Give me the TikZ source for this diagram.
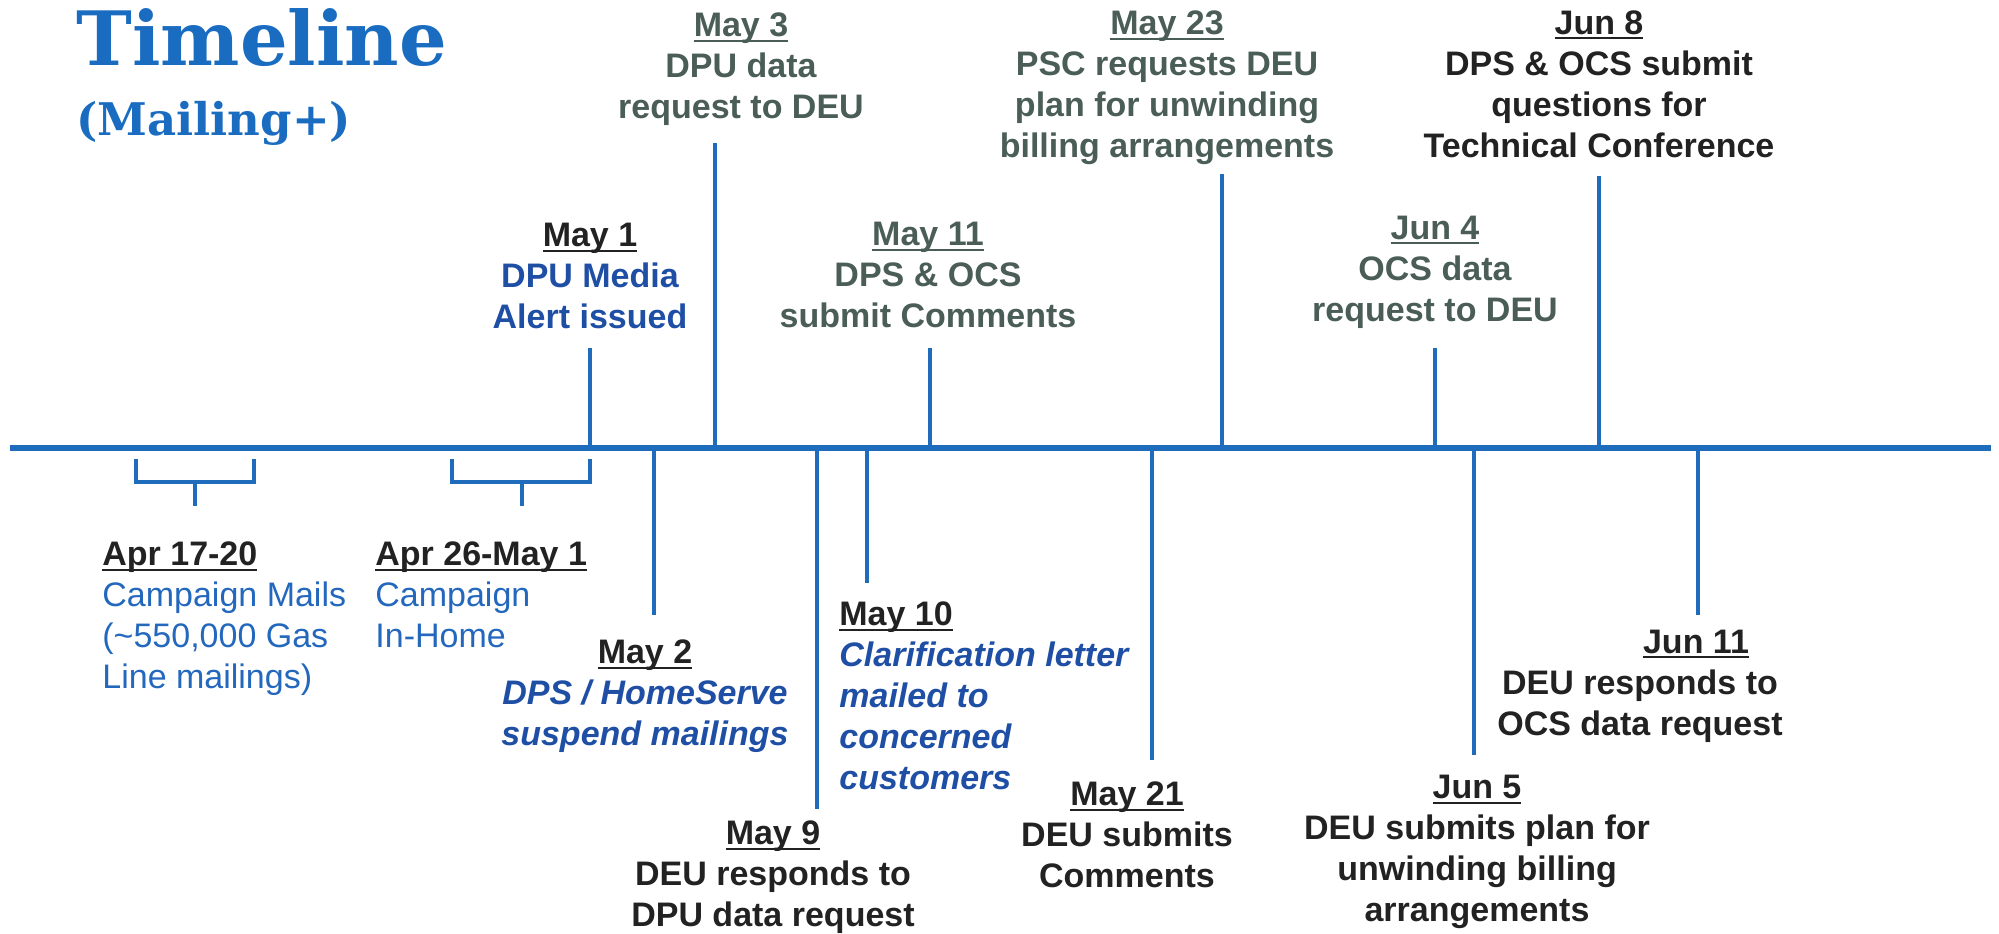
\documentclass[tikz,border=0pt]{standalone}
\usepackage{fontspec}
\setmainfont{Liberation Sans}
\newfontfamily\titlefont{DejaVu Serif}
\definecolor{linec}{HTML}{1F6CBC}
\definecolor{titlec}{HTML}{1A6CC0}
\definecolor{darkt}{HTML}{222222}
\definecolor{greyt}{HTML}{4A5D57}
\definecolor{boldblue}{HTML}{1F4FA5}
\definecolor{lightblue}{HTML}{2468BD}
\newsavebox\dtbox
\newcommand\dte[1]{\sbox\dtbox{#1}\leavevmode\rlap{\rule[-2.6pt]{\wd\dtbox}{1pt}}\usebox\dtbox}
\begin{document}
\begin{tikzpicture}[x=0.5pt,y=-0.5pt,
  lbl/.style={font=\fontsize{17}{20.5}\selectfont\bfseries, align=center, inner sep=0pt},
  lblit/.style={font=\fontsize{17}{20.5}\selectfont\bfseries\itshape, inner sep=0pt},
  lblreg/.style={font=\fontsize{17}{20.5}\selectfont, align=left, inner sep=0pt, anchor=west, text=lightblue},
  mainline/.style={draw=linec, line width=3pt},
  tick/.style={draw=linec, line width=1.8pt},
  brace/.style={draw=linec, line width=1.8pt}]
\useasboundingbox (0,0) rectangle (1999,933);

% title
\node[anchor=base west, inner sep=0pt, text=titlec, font=\titlefont\bfseries\fontsize{37.5}{40}\selectfont] (title) at (76,65) {Timeline};
\node[anchor=base west, inner sep=0pt, text=titlec, font=\titlefont\bfseries\fontsize{22.5}{26}\selectfont] (subtitle) at (76,135) {(Mailing+)};

% main line
\coordinate (L) at (10,448);
\coordinate (R) at (1991,448);
\draw[mainline] (L) -- (R);

% ticks above
\coordinate (a1) at (590,448);  \coordinate (a1t) at (590,348);
\coordinate (a2) at (715,448);  \coordinate (a2t) at (715,143);
\coordinate (a3) at (930,448);  \coordinate (a3t) at (930,348);
\coordinate (a4) at (1222,448); \coordinate (a4t) at (1222,174);
\coordinate (a5) at (1435,448); \coordinate (a5t) at (1435,348);
\coordinate (a6) at (1599,448); \coordinate (a6t) at (1599,176);
\foreach \i in {1,...,6} {\draw[tick] (a\i) -- (a\i t);}

% ticks below
\coordinate (b1) at (654,448);  \coordinate (b1t) at (654,615);
\coordinate (b2) at (817,448);  \coordinate (b2t) at (817,809);
\coordinate (b3) at (867,448);  \coordinate (b3t) at (867,583);
\coordinate (b4) at (1152,448); \coordinate (b4t) at (1152,760);
\coordinate (b5) at (1474,448); \coordinate (b5t) at (1474,755);
\coordinate (b6) at (1698,448); \coordinate (b6t) at (1698,615);
\foreach \i in {1,...,6} {\draw[tick] (b\i) -- (b\i t);}

% braces
\draw[brace] (136,459) -- (136,482) -- (254,482) -- (254,459);
\draw[brace] (195,482) -- (195,506);
\draw[brace] (452,459) -- (452,482) -- (590,482) -- (590,459);
\draw[brace] (522,482) -- (522,506);

% labels above
\node[lbl, text=boldblue] (may1) at (590,276) {{\color{darkt}\dte{May 1}}\\DPU Media\\Alert issued};
\node[lbl, text=greyt] (may3) at (741,69) {\dte{May 3}\\DPU data\\request to DEU};
\node[lbl, text=greyt] (may11) at (928,275) {\dte{May 11}\\DPS \& OCS\\submit Comments};
\node[lbl, text=greyt] (may23) at (1167,88) {\dte{May 23}\\PSC requests DEU\\plan for unwinding\\billing arrangements};
\node[lbl, text=greyt] (jun4) at (1435,272) {\dte{Jun 4}\\OCS data\\request to DEU};
\node[lbl, text=darkt] (jun8) at (1599,84) {\dte{Jun 8}\\DPS \& OCS submit\\questions for\\Technical Conference};

% labels below
\node[lblreg] (apr17) at (102,619) {{\bfseries\color{darkt}\dte{Apr 17-20}}\\Campaign Mails\\(\textasciitilde 550,000 Gas\\Line mailings)};
\node[lblreg] (apr26) at (375,595) {{\bfseries\color{darkt}\dte{Apr 26-May 1}}\\Campaign\\In-Home};
\node[lblit, align=center, text=boldblue] (may2) at (645,696) {{\upshape\color{darkt}\dte{May 2}}\\DPS / HomeServe\\suspend mailings};
\node[lbl, text=darkt] (may9) at (773,877) {\dte{May 9}\\DEU responds to\\DPU data request};
\node[lblit, align=left, anchor=west, text=boldblue] (may10) at (839,696) {{\upshape\color{darkt}\dte{May 10}}\\Clarification letter\\mailed to\\concerned\\customers};
\node[lbl, text=darkt] (may21) at (1127,835) {\dte{May 21}\\DEU submits\\Comments};
\node[lbl, text=darkt] (jun5) at (1477,852) {\dte{Jun 5}\\DEU submits plan for\\unwinding billing\\arrangements};
\node[lbl, text=darkt] (jun11) at (1640,686) {\hspace*{56pt}\dte{Jun 11}\\DEU responds to\\OCS data request};
\end{tikzpicture}
\end{document}
